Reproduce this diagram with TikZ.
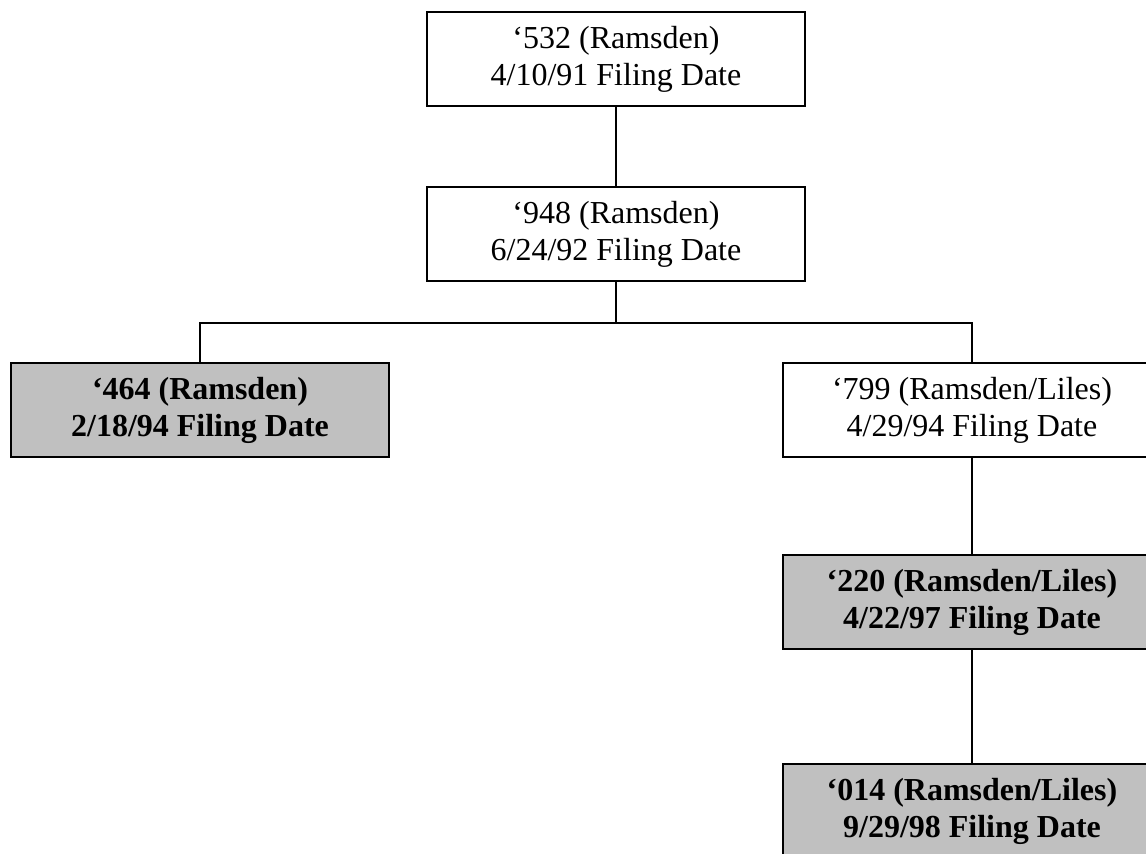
\documentclass[tikz,border=0pt]{standalone}
\usepackage{fontspec}
\setmainfont{Liberation Serif}
\usepackage{xcolor}
\usepackage{tikz}
\usetikzlibrary{positioning}
\definecolor{filed}{RGB}{192,192,192}

\begin{document}
\begin{tikzpicture}[
            % Boxes of the patent family
            block/.style={rectangle, draw, line width=0.75pt, fill=white, minimum width=141.75pt, minimum height=35.25pt, inner sep=0pt, align=center, font=\fontsize{12pt}{13.9pt}\selectfont},
            % Shaded boxes in bold
            issued/.style={block, fill=filed, font=\fontsize{12pt}{13.9pt}\selectfont\bfseries},
            line/.style={draw, line width=0.75pt}
        ]
            \useasboundingbox (-231pt,22.125pt) rectangle ++(429.75pt,-320.25pt);
            \node [block] (app532) at (0,0) {‘532 (Ramsden)\\4/10/91 Filing Date};
            \node [block, below=29.65pt of app532] (app948) {‘948 (Ramsden)\\6/24/92 Filing Date};
            \node [issued, below=30pt of app948, xshift=-156pt] (app464) {‘464 (Ramsden)\\2/18/94 Filing Date};
            \node [block, below=30pt of app948, xshift=133.5pt] (app799) {‘799 (Ramsden/Liles)\\4/29/94 Filing Date};
            \node [issued, below=36pt of app799] (app220) {‘220 (Ramsden/Liles)\\4/22/97 Filing Date};
            \node [issued, below=42.4pt of app220] (app014) {‘014 (Ramsden/Liles)\\9/29/98 Filing Date};

            \path [line] (app532) -- (app948);
            \path [line] (app948.south) -- ++(0,-15.4pt) coordinate (split) -| (app464.north);
            \path [line] (split) -| (app799.north);
            \path [line] (app799) -- (app220);
            \path [line] (app220) -- (app014);
        \end{tikzpicture}
\end{document}
